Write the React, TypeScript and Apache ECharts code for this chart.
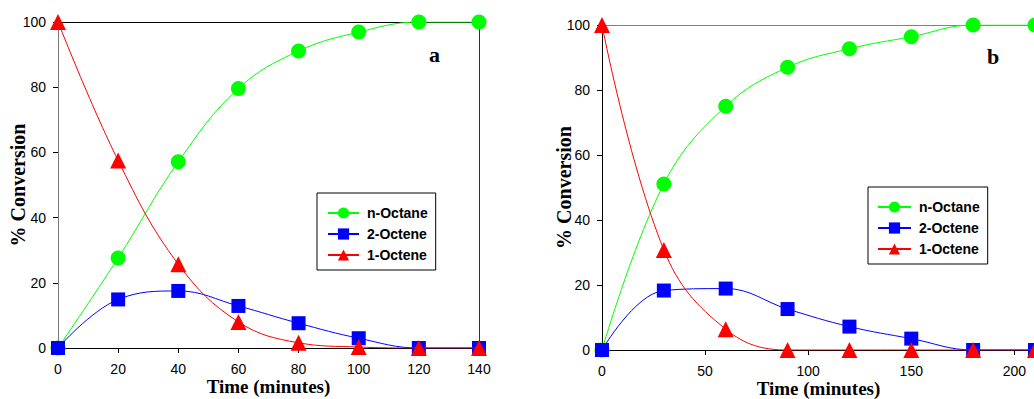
import React, { useEffect, useRef } from "react";
import * as echarts from "echarts";

const seriesNames = ["n-Octane", "2-Octene", "1-Octene"];
const colors = ["#00ff00", "#0000ff", "#ff0000"];
const symbols = ["circle", "rect", "triangle"];
const symbolSizes = [15, 14, 16];

// Panel a
const timeA = [0, 20, 40, 60, 80, 100, 120, 140];
const nOctaneA = [0, 27.6, 57.1, 79.6, 91.1, 96.9, 100, 100];
const octene2A = [0, 14.9, 17.5, 12.9, 7.6, 3.0, 0, 0];
const octene1A = [100, 57.5, 25.7, 8.0, 1.6, 0.3, 0, 0];

// Panel b
const timeB = [0, 30, 60, 90, 120, 150, 180, 210];
const nOctaneB = [0, 51.1, 75.0, 87.0, 92.7, 96.4, 100, 100];
const octene2B = [0, 18.3, 18.9, 12.6, 7.2, 3.5, 0, 0];
const octene1B = [100, 30.8, 6.4, 0, 0, 0, 0, 0];

const yTicks = [0, 20, 40, 60, 80, 100];

const sans = "Liberation Sans, Arial, sans-serif";
const serif = "Liberation Serif, Times New Roman, serif";

function pairs(xs: number[], ys: number[]) {
  return xs.map((x, i) => [x, ys[i]]);
}

export default function App() {
  const ref = useRef<HTMLDivElement>(null);
  useEffect(() => {
    if (!ref.current) return;
    const chart = echarts.init(ref.current, undefined, { renderer: "svg" });
    const dataA = [nOctaneA, octene2A, octene1A];
    const dataB = [nOctaneB, octene2B, octene1B];
    const mkSeries = (idx: number, xs: number[], all: number[][]) =>
      seriesNames.map((name, i) => ({
        name,
        type: "line",
        xAxisIndex: idx,
        yAxisIndex: idx,
        data: pairs(xs, all[i]),
        smooth: 0.4,
        symbol: symbols[i],
        symbolSize: symbolSizes[i],
        showAllSymbol: true,
        lineStyle: { color: colors[i], width: 1 },
        itemStyle: { color: colors[i] },
        z: 2 + i,
      }));
    const tickLabel = { fontFamily: sans, fontSize: 14, color: "#000" };
    const legendBase = {
      orient: "vertical",
      data: seriesNames,
      itemWidth: 31,
      itemHeight: 14,
      itemGap: 7,
      borderColor: "#000",
      borderWidth: 1,
      textStyle: { fontFamily: sans, fontWeight: "bold", fontSize: 14, color: "#000", padding: [0, 0, 0, 3] },
    };
    const nameStyle = { fontFamily: serif, fontWeight: "bold", fontSize: 19, color: "#000" };
    const option: any = {
      animation: false,
      backgroundColor: "#fff",
      grid: [
        { left: 58, top: 22, width: 421, height: 326, containLabel: false, outerBoundsMode: "none" },
        { left: 602, top: 25, width: 433, height: 325, containLabel: false, outerBoundsMode: "none" },
      ],
      xAxis: [
        {
          gridIndex: 0, type: "value", min: 0, max: 140, interval: 20,
          axisLine: { onZero: false, lineStyle: { color: "#000" } },
          axisTick: { length: 5, lineStyle: { color: "#000" } },
          axisLabel: { ...tickLabel, margin: 14 },
          splitLine: { show: false },
          name: "Time (minutes)", nameLocation: "middle", nameGap: 29, nameMoveOverlap: false,
          nameTextStyle: nameStyle,
        },
        {
          gridIndex: 1, type: "value", min: 0, max: 210, interval: 50,
          axisLine: { onZero: false, lineStyle: { color: "#000" } },
          axisTick: { length: 5, lineStyle: { color: "#000" } },
          axisLabel: { ...tickLabel, margin: 14, formatter: (v: number) => (v % 50 === 0 ? String(v) : "") },
          splitLine: { show: false },
          name: "Time (minutes)", nameLocation: "middle", nameGap: 29, nameMoveOverlap: false,
          nameTextStyle: nameStyle,
        },
        {
          gridIndex: 0, type: "value", position: "top", min: 0, max: 140,
          axisLine: { onZero: false, lineStyle: { color: "#000" } },
          axisTick: { show: false }, axisLabel: { show: false }, splitLine: { show: false },
        },
        {
          gridIndex: 1, type: "value", position: "top", min: 0, max: 210,
          axisLine: { onZero: false, lineStyle: { color: "#808080" } },
          axisTick: { show: false }, axisLabel: { show: false }, splitLine: { show: false },
        },
      ],
      yAxis: [
        {
          gridIndex: 0, type: "value", min: yTicks[0], max: yTicks[yTicks.length - 1], interval: 20,
          axisLine: { show: true, onZero: false, lineStyle: { color: "#7a7a7a" } },
          axisTick: { show: true, length: 5, lineStyle: { color: "#000" } },
          axisLabel: { ...tickLabel, margin: 12 },
          splitLine: { show: false },
          name: "% Conversion", nameLocation: "middle", nameGap: 30, nameMoveOverlap: false,
          nameTextStyle: { ...nameStyle, fontSize: 20 },
        },
        {
          gridIndex: 1, type: "value", min: yTicks[0], max: yTicks[yTicks.length - 1], interval: 20,
          axisLine: { show: true, onZero: false, lineStyle: { color: "#000" } },
          axisTick: { show: true, length: 5, lineStyle: { color: "#000" } },
          axisLabel: { ...tickLabel, margin: 12 },
          splitLine: { show: false },
          name: "% Conversion", nameLocation: "middle", nameGap: 28, nameMoveOverlap: false,
          nameTextStyle: { ...nameStyle, fontSize: 20 },
        },
        {
          gridIndex: 0, type: "value", position: "right", min: 0, max: 100,
          axisLine: { show: true, onZero: false, lineStyle: { color: "#333" } },
          axisTick: { show: false }, axisLabel: { show: false }, splitLine: { show: false },
        },
      ],
      legend: [
        { ...legendBase, left: 317, top: 193, padding: [13, 8, 8, 10] },
        { ...legendBase, left: 868, top: 187, itemWidth: 33, padding: [13, 8, 8, 9] },
      ],
      graphic: [
        {
          type: "text", left: 429, top: 43,
          style: { text: "a", font: `bold 22px ${serif}`, fill: "#000" },
        },
        {
          type: "text", left: 987, top: 45,
          style: { text: "b", font: `bold 22px ${serif}`, fill: "#000" },
        },
      ],
      series: [...mkSeries(0, timeA, dataA), ...mkSeries(1, timeB, dataB)],
    };
    chart.setOption(option);
    return () => chart.dispose();
  }, []);
  return (
    <div
      ref={ref}
      style={{ position: "fixed", left: 0, top: 0, width: 1040, height: 399, background: "#fff" }}
    />
  );
}
